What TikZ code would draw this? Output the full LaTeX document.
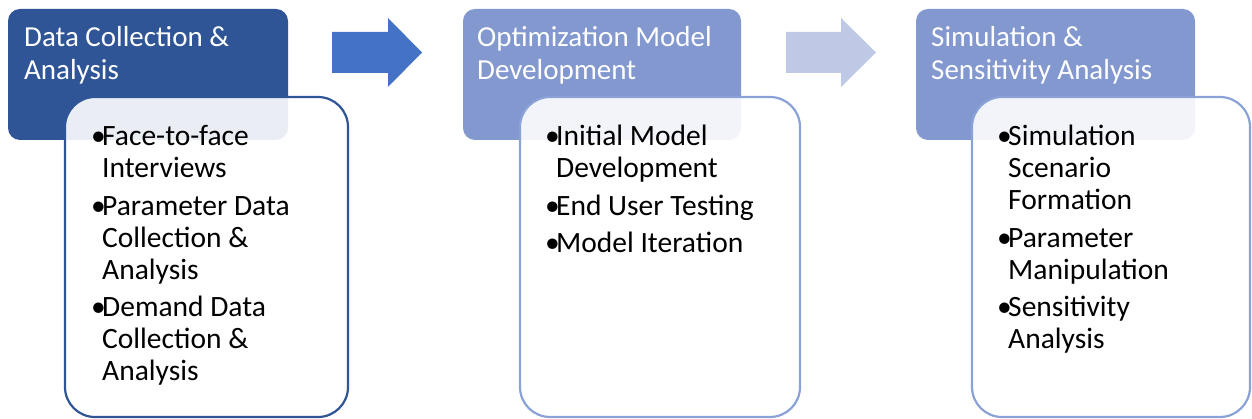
\documentclass[tikz,border=0pt]{standalone}
\usepackage{fontspec}
\setmainfont{Carlito}
\definecolor{deepblue}{HTML}{2F5597}
\definecolor{midblue}{HTML}{8298CF}
\definecolor{arrowA}{HTML}{4472C4}
\definecolor{arrowB}{HTML}{BFC9E5}
\definecolor{edgeB}{HTML}{8AA2D8}
\newcommand\bitem[1]{\par\noindent\hangindent=11pt\hangafter=1\makebox[11pt][l]{•}#1}
\newcommand\bodytext[1]{\parbox[t]{240pt}{\fontsize{29.5}{32}\selectfont\setlength{\parskip}{5.5pt}\raggedright #1}}
\newcommand\headtext[1]{\parbox[t]{270pt}{\fontsize{29}{33}\selectfont\raggedright #1}}
\tikzset{
  header/.style={rounded corners=12pt},
  card/.style={rounded corners=30pt, line width=2.2pt, fill=white, fill opacity=0.9},
  headlabel/.style={anchor=base west, inner sep=0pt, text=white},
  bodylabel/.style={anchor=base west, inner sep=0pt, text=black},
  bigarrow/.style={draw=none}
}
\begin{document}
\begin{tikzpicture}[x=1pt, y=-1pt]
  \useasboundingbox (0,0) rectangle (1252,419);

  % stage headers
  \fill[deepblue, header] (8,9) rectangle (288,140);
  \fill[midblue, header] (463,9) rectangle (741,140);
  \fill[midblue, header] (916,9) rectangle (1195,140);

  % detail cards overlapping the headers
  \draw[card, draw=deepblue] (65,97) rectangle (348,417);
  \draw[card, draw=edgeB] (520,97) rectangle (800,417);
  \draw[card, draw=edgeB] (972,97) rectangle (1250,417);

  % block arrows between stages
  \fill[arrowA] (332,32) -- (388,32) -- (388,18) -- (422,52.5) -- (388,87) -- (388,73) -- (332,73) -- cycle;
  \fill[arrowB] (786,32) -- (841,32) -- (841,18) -- (876,52.5) -- (841,87) -- (841,73) -- (786,73) -- cycle;

  % header titles
  \node[headlabel] (h1) at (24,47) {\headtext{Data Collection \&\\Analysis}};
  \node[headlabel] (h2) at (477,47) {\headtext{Optimization Model\\Development}};
  \node[headlabel] (h3) at (931,47) {\headtext{Simulation \&\\Sensitivity Analysis}};

  % bullet lists
  \node[bodylabel] (b1) at (91,146) {\bodytext{%
    \bitem{Face-to-face\newline Interviews}
    \bitem{Parameter Data\newline Collection \&\newline Analysis}
    \bitem{Demand Data\newline Collection \&\newline Analysis}}};
  \node[bodylabel] (b2) at (545,146) {\bodytext{%
    \bitem{Initial Model\newline Development}
    \bitem{End User Testing}
    \bitem{Model Iteration}}};
  \node[bodylabel] (b3) at (997,146) {\bodytext{%
    \bitem{Simulation\newline Scenario\newline Formation}
    \bitem{Parameter\newline Manipulation}
    \bitem{Sensitivity\newline Analysis}}};
\end{tikzpicture}
\end{document}
